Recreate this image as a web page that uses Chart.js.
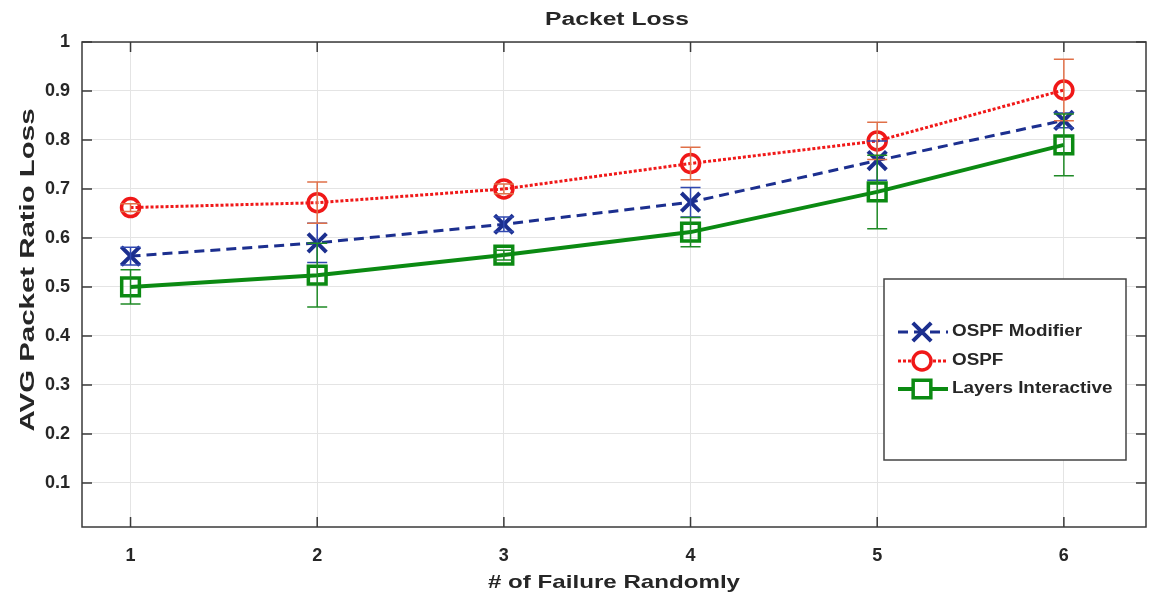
<!DOCTYPE html>
<html>
<head>
<meta charset="utf-8">
<script src="https://cdn.jsdelivr.net/npm/chart.js@4/dist/chart.umd.min.js"></script>
<style>
  html, body { margin: 0; padding: 0; background: #fff; overflow: hidden; }
  #wrap { width: 1163px; height: 598px; position: relative; }
</style>
</head>
<body>
<div id="wrap"><canvas id="chart1"></canvas></div>
<script>
// data
const failures = [1, 2, 3, 4, 5, 6]
const ospfModifier = [0.563, 0.590, 0.628, 0.673, 0.758, 0.840]
const ospfModifierErr = [0.018, 0.040, 0.015, 0.030, 0.040, 0.015]
const ospf = [0.662, 0.672, 0.700, 0.752, 0.798, 0.902]
const ospfErr = [0.008, 0.042, 0.010, 0.033, 0.038, 0.063]
const layers = [0.500, 0.524, 0.565, 0.612, 0.694, 0.790]
const layersErr = [0.035, 0.065, 0.010, 0.030, 0.075, 0.063]
const xTicks = [1, 2, 3, 4, 5, 6]
const yTicks = [0.1, 0.2, 0.3, 0.4, 0.5, 0.6, 0.7, 0.8, 0.9, 1]

const seriesNames = ['OSPF Modifier', 'OSPF', 'Layers Interactive']

const FONT = '"Liberation Sans", Arial, sans-serif'
const TXT = '#262626'

// text drawn a bit wider, the source image is stretched sideways
function wideText(ctx, text, x, y, font, align, sx) {
  ctx.save()
  ctx.font = font
  ctx.fillStyle = TXT
  ctx.textBaseline = 'middle'
  ctx.translate(x, y)
  ctx.scale(sx, 1)
  ctx.textAlign = align
  ctx.fillText(text, 0, 0)
  ctx.restore()
}

const errorBars = {
  id: 'errorBars',
  afterDatasetsDraw(chart) {
    const ctx = chart.ctx
    const xs = chart.scales.x, ys = chart.scales.y
    chart.data.datasets.forEach(ds => {
      ctx.save()
      ctx.strokeStyle = ds.errColor
      ctx.lineWidth = 1.5
      ds.data.forEach((p, i) => {
        const e = ds.errors[i]
        const px = xs.getPixelForValue(p.x)
        const top = ys.getPixelForValue(p.y + e)
        const bot = ys.getPixelForValue(p.y - e)
        ctx.beginPath()
        ctx.moveTo(px, top); ctx.lineTo(px, bot)
        ctx.moveTo(px - 10, top); ctx.lineTo(px + 10, top)
        ctx.moveTo(px - 10, bot); ctx.lineTo(px + 10, bot)
        ctx.stroke()
      })
      ctx.restore()
    })
  }
}

const frame = {
  id: 'frame',
  afterDraw(chart) {
    const ctx = chart.ctx
    const a = chart.chartArea
    const xs = chart.scales.x, ys = chart.scales.y
    ctx.save()
    ctx.strokeStyle = '#3a3a3a'
    ctx.lineWidth = 1.5
    ctx.strokeRect(a.left, a.top, a.right - a.left, a.bottom - a.top)
    ctx.beginPath()
    xTicks.forEach(t => {
      const px = xs.getPixelForValue(t)
      ctx.moveTo(px, a.bottom); ctx.lineTo(px, a.bottom - 10)
      ctx.moveTo(px, a.top); ctx.lineTo(px, a.top + 10)
    })
    yTicks.forEach(t => {
      const py = ys.getPixelForValue(t)
      ctx.moveTo(a.left, py); ctx.lineTo(a.left + 10, py)
      ctx.moveTo(a.right, py); ctx.lineTo(a.right - 10, py)
    })
    ctx.stroke()
    ctx.restore()

    // titles
    wideText(ctx, 'Packet Loss', 617, 20, 'bold 18px ' + FONT, 'center', 1.37)
    wideText(ctx, '# of Failure Randomly', 614, 583, 'bold 19px ' + FONT, 'center', 1.27)
    ctx.save()
    ctx.translate(28, 270)
    ctx.rotate(-Math.PI / 2)
    wideText(ctx, 'AVG Packet Ratio Loss', 0, 0, 'bold 21px ' + FONT, 'center', 1.4)
    ctx.restore()

    // legend box
    const lx = 884, ly = 279, lw = 242, lh = 181
    ctx.save()
    ctx.fillStyle = '#fff'
    ctx.fillRect(lx, ly, lw, lh)
    ctx.strokeStyle = '#444'
    ctx.lineWidth = 1.5
    ctx.strokeRect(lx, ly, lw, lh)
    ctx.restore()
    const rows = [332, 361, 389]
    chart.data.datasets.forEach((ds, i) => {
      const y = rows[i]
      ctx.save()
      ctx.strokeStyle = ds.borderColor
      ctx.lineWidth = ds.borderWidth
      ctx.setLineDash(ds.borderDash || [])
      ctx.beginPath()
      ctx.moveTo(898, y); ctx.lineTo(948, y)
      ctx.stroke()
      ctx.setLineDash([])
      ctx.fillStyle = '#fff'
      ctx.strokeStyle = ds.borderColor
      ctx.lineWidth = ds.pointBorderWidth
      Chart.helpers.drawPoint(ctx, {
        pointStyle: ds.pointStyle, rotation: 0,
        radius: ds.pointRadius, borderWidth: ds.pointBorderWidth
      }, 922, y)
      ctx.restore()
      wideText(ctx, ds.label, 952, y, 'bold 16px ' + FONT, 'left', 1.18)
    })
  }
}

const toPts = arr => arr.map((v, i) => ({ x: failures[i], y: v }))

new Chart(document.getElementById('chart1'), {
  type: 'line',
  data: {
    datasets: [
      {
        label: seriesNames[0], data: toPts(ospfModifier), errors: ospfModifierErr,
        borderColor: '#1c2f8f', errColor: '#3048b0', borderWidth: 3, borderDash: [10, 6],
        pointStyle: 'crossRot', pointRadius: 13, pointBorderWidth: 4,
        pointBackgroundColor: '#1c2f8f', pointBorderColor: '#1c2f8f'
      },
      {
        label: seriesNames[1], data: toPts(ospf), errors: ospfErr,
        borderColor: '#f01818', errColor: '#e07048', borderWidth: 3, borderDash: [3, 2],
        pointStyle: 'circle', pointRadius: 9, pointBorderWidth: 3.5,
        pointBackgroundColor: 'rgba(255,255,255,0)', pointBorderColor: '#f01818'
      },
      {
        label: seriesNames[2], data: toPts(layers), errors: layersErr,
        borderColor: '#0b8a12', errColor: '#1f8a26', borderWidth: 4,
        pointStyle: 'rect', pointRadius: 12.5, pointBorderWidth: 3.5,
        pointBackgroundColor: 'rgba(255,255,255,0)', pointBorderColor: '#0b8a12'
      }
    ]
  },
  options: {
    responsive: true,
    maintainAspectRatio: false,
    animation: false,
    layout: { padding: { top: 42, right: 0, left: 0, bottom: 0 } },
    plugins: { legend: { display: false }, title: { display: false }, tooltip: { enabled: false } },
    scales: {
      x: {
        type: 'linear', min: 0.74, max: 6.44,
        afterBuildTicks: s => { s.ticks = xTicks.map(v => ({ value: v })) },
        afterFit: s => { s.height = 71 },
        grid: { color: '#e4e4e4', lineWidth: 1, drawTicks: false },
        border: { display: false },
        ticks: { padding: 18, color: TXT, font: { family: FONT, size: 18, weight: 'bold' } }
      },
      y: {
        min: 0.01, max: 1,
        afterBuildTicks: s => { s.ticks = yTicks.map(v => ({ value: v })) },
        afterFit: s => { s.width = 82 },
        grid: { color: '#e4e4e4', lineWidth: 1, drawTicks: false },
        border: { display: false },
        ticks: {
          padding: 12, color: TXT, font: { family: FONT, size: 18, weight: 'bold' },
          callback: v => String(Math.round(v * 10) / 10)
        }
      }
    }
  },
  plugins: [errorBars, frame]
})
</script>
</body>
</html>
